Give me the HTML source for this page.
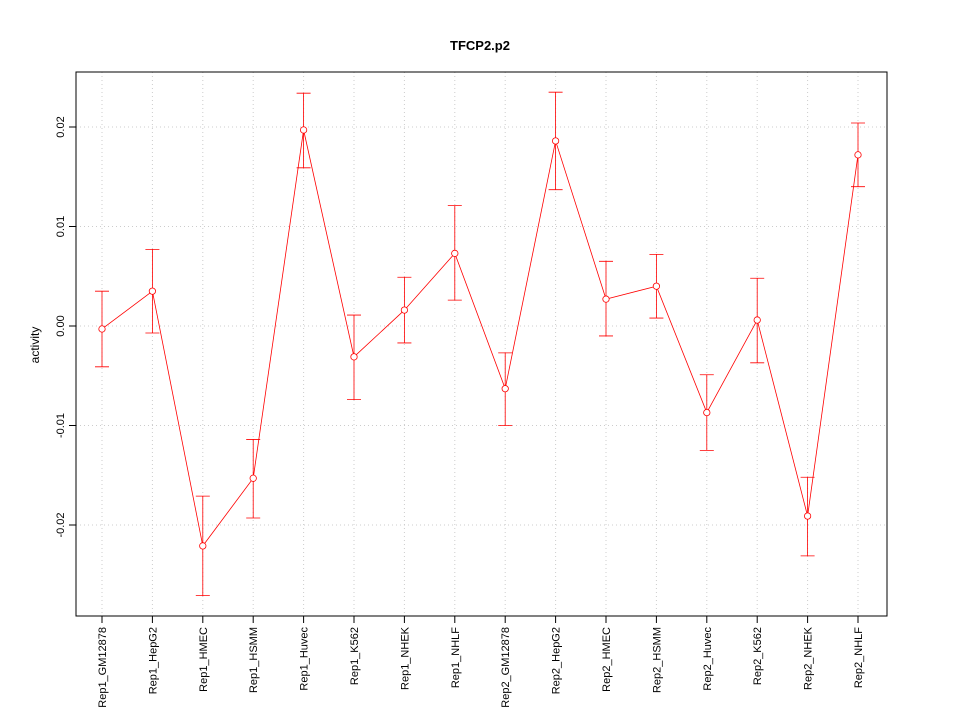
<!DOCTYPE html>
<html><head><meta charset="utf-8"><style>
html,body{margin:0;padding:0;background:#fff;}
svg{display:block;font-family:"Liberation Sans",sans-serif;}
</style></head><body>
<svg id="chart" width="960" height="720" xmlns="http://www.w3.org/2000/svg">
<text x="480" y="50" text-anchor="middle" font-size="13" font-weight="bold">TFCP2.p2</text>
<text transform="translate(39,345) rotate(-90)" text-anchor="middle" font-size="12">activity</text>
<g id="grid"></g>
<g id="axes"></g>
<g id="marks"></g>
<rect x="76" y="72" width="811" height="544" fill="none" stroke="#000" stroke-width="1"/>
</svg>
<script>
const categories=["Rep1_GM12878","Rep1_HepG2","Rep1_HMEC","Rep1_HSMM","Rep1_Huvec","Rep1_K562","Rep1_NHEK","Rep1_NHLF","Rep2_GM12878","Rep2_HepG2","Rep2_HMEC","Rep2_HSMM","Rep2_Huvec","Rep2_K562","Rep2_NHEK","Rep2_NHLF"];
const values=[-0.0003,0.0035,-0.0221,-0.0153,0.0197,-0.0031,0.0016,0.0073,-0.0063,0.0186,0.0027,0.0040,-0.0087,0.0006,-0.0191,0.0172];
const upper=[0.0035,0.0077,-0.0171,-0.0114,0.0234,0.0011,0.0049,0.0121,-0.0027,0.0235,0.0065,0.0072,-0.0049,0.0048,-0.0152,0.0204];
const lower=[-0.0041,-0.0007,-0.0271,-0.0193,0.0159,-0.0074,-0.0017,0.0026,-0.0100,0.0137,-0.0010,0.0008,-0.0125,-0.0037,-0.0231,0.0140];
const yTicks=[-0.02,-0.01,0,0.01,0.02];
const yTickLabels=["-0.02","-0.01","0.00","0.01","0.02"];
const NS="http://www.w3.org/2000/svg";
function xs(i){return 102+i*50.4;}
function ys(v){return 326-v*9950;}
function mk(tag,attrs,parent){const e=document.createElementNS(NS,tag);for(const k in attrs)e.setAttribute(k,attrs[k]);parent.appendChild(e);return e;}
const grid=document.getElementById('grid'),axes=document.getElementById('axes'),marks=document.getElementById('marks');
categories.forEach((c,i)=>{
 const g=mk('line',{x1:xs(i),x2:xs(i),y1:72,y2:616,stroke:'#ccc','stroke-dasharray':'1,3'},grid);
 
 
 const t=mk('line',{x1:xs(i),x2:xs(i),y1:616,y2:623,stroke:'#000'},axes);
 
 
 const l=mk('text',{transform:`translate(${xs(i)+4},627) rotate(-90)`,'text-anchor':'end','font-size':'11'},axes);
 l.textContent=c;
 
 
});
yTicks.forEach((v,i)=>{
 const g=mk('line',{x1:76,x2:887,y1:ys(v),y2:ys(v),stroke:'#ccc','stroke-dasharray':'1,3'},grid);
 
 
 const t=mk('line',{x1:69,x2:76,y1:ys(v),y2:ys(v),stroke:'#000'},axes);
 
 
 const l=mk('text',{transform:`translate(64,${ys(v)}) rotate(-90)`,'text-anchor':'middle','font-size':'11'},axes);
 l.textContent=yTickLabels[i];
 
 
});
const line=mk('polyline',{points:values.map((v,i)=>xs(i)+','+ys(v)).join(' '),fill:'none',stroke:'#f00','stroke-width':0.8},marks);


values.forEach((v,i)=>{
 const x=xs(i);
 const e=mk('path',{d:`M${x},${ys(lower[i])}V${ys(upper[i])}M${x-7},${ys(upper[i])}H${x+7}M${x-7},${ys(lower[i])}H${x+7}`,stroke:'#f00',fill:'none','stroke-width':0.8},marks);
 
 
 const p=mk('circle',{cx:x,cy:ys(v),r:3.2,fill:'#fff',stroke:'#f00','stroke-width':0.8},marks);
 
 
});
</script>
</body></html>
